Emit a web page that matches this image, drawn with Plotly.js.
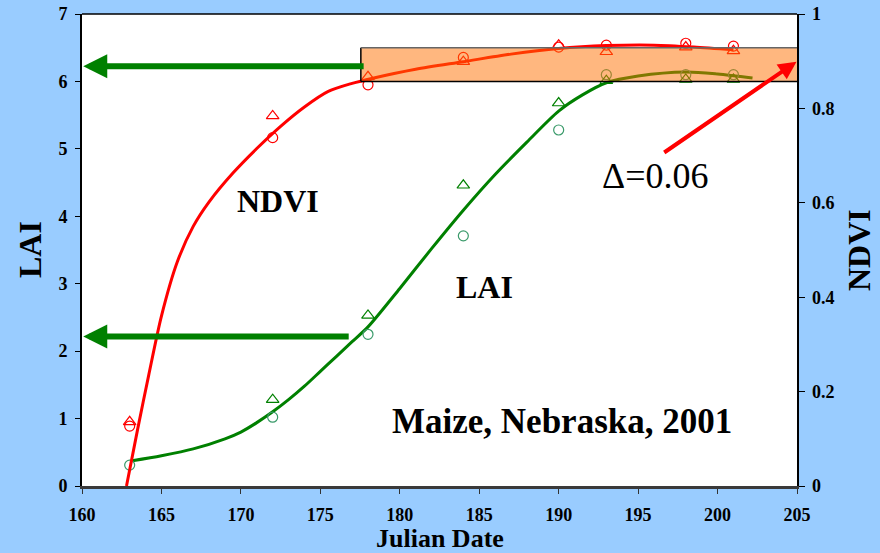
<!DOCTYPE html>
<html>
<head>
<meta charset="utf-8">
<script src="https://cdn.plot.ly/plotly-3.0.1.min.js"></script>
<style>html,body{margin:0;padding:0;background:#99CCFF;}#chart{width:880px;height:553px;}</style>
</head>
<body>
<div id="chart"></div>
<script>
// Measured points
var dates = [163, 172, 178, 184, 190, 193, 198, 201];
var ndviCircle   = [0.127, 0.738, 0.850, 0.908, 0.930, 0.934, 0.938, 0.932];
var ndviTriangle = [0.136, 0.784, 0.867, 0.899, 0.934, 0.920, 0.930, 0.922];
var laiCircle    = [0.31, 1.02, 2.25, 3.71, 5.28, 6.10, 6.10, 6.10];
var laiTriangle  = [null, 1.28, 2.53, 4.46, 5.68, 6.01, 6.03, 6.03];

// Fitted curves
var ndviCurveX = [162.8, 163.5, 164.2, 165.0, 166.0, 167.0, 168.0, 169.5, 171.0, 172.5, 174.0, 175.5, 177.0, 178.3, 181.0, 184.0, 187.0, 190.0, 193.0, 196.0, 198.5, 201.0];
var ndviCurveY = [0.0, 0.12, 0.235, 0.36, 0.475, 0.55, 0.602, 0.663, 0.715, 0.762, 0.803, 0.836, 0.853, 0.864, 0.883, 0.899, 0.915, 0.927, 0.933, 0.934, 0.930, 0.924];
var laiCurveX = [163.16, 165.0, 167.0, 169.0, 170.0, 171.0, 172.0, 173.0, 174.0, 175.0, 176.0, 177.0, 178.0, 180.0, 182.0, 184.0, 186.0, 188.0, 190.0, 191.5, 193.0, 195.0, 198.0, 200.0, 202.2];
var laiCurveY = [0.376, 0.45, 0.55, 0.70, 0.80, 0.94, 1.10, 1.28, 1.48, 1.70, 1.92, 2.14, 2.36, 2.93, 3.52, 4.09, 4.62, 5.10, 5.56, 5.80, 5.98, 6.08, 6.14, 6.11, 6.05];

var xTicks = [160, 165, 170, 175, 180, 185, 190, 195, 200, 205];
var laiTicks = [0, 1, 2, 3, 4, 5, 6, 7];
var ndviTicks = [0, 0.2, 0.4, 0.6, 0.8, 1];
var ndviTickText = ['0', '0.2', '0.4', '0.6', '0.8', '1'];

var SERIF = "'Liberation Serif', 'Times New Roman', serif";
var RED = '#FF0000', GREEN = '#008000', TEAL = '#3A9A6A';

function tf() { return {family: SERIF, size: 18, color: '#000', weight: 700}; }
function bf(s) { return {family: SERIF, size: s, color: '#000', weight: 700}; }

var traces = [
  {x: laiCurveX, y: laiCurveY, mode: 'lines', line: {color: GREEN, width: 3, shape: 'spline', smoothing: 0.8}, yaxis: 'y', hoverinfo: 'skip'},
  {x: ndviCurveX, y: ndviCurveY, mode: 'lines', line: {color: RED, width: 3, shape: 'spline', smoothing: 0.8}, yaxis: 'y2', hoverinfo: 'skip'},
  {x: dates, y: laiCircle, mode: 'markers', marker: {symbol: 'circle-open', size: 10, color: TEAL, line: {width: 1.2, color: TEAL}}, yaxis: 'y'},
  {x: dates, y: laiTriangle, mode: 'markers', marker: {symbol: 'triangle-up-open', size: 11, color: GREEN, line: {width: 1.2, color: GREEN}}, yaxis: 'y'},
  {x: dates, y: ndviCircle, mode: 'markers', marker: {symbol: 'circle-open', size: 10, color: RED, line: {width: 1.2, color: RED}}, yaxis: 'y2'},
  {x: dates, y: ndviTriangle, mode: 'markers', marker: {symbol: 'triangle-up-open', size: 11, color: RED, line: {width: 1.2, color: RED}}, yaxis: 'y2'}
];

var layout = {
  width: 880, height: 553,
  paper_bgcolor: '#99CCFF', plot_bgcolor: '#FFFFFF',
  font: {family: SERIF, weight: 700, color: '#000'},
  margin: {l: 82, r: 83, t: 14, b: 67},
  showlegend: false,
  xaxis: {
    range: [160, 205], tickvals: xTicks, ticks: 'outside', ticklen: 5, tickcolor: '#333',
    showline: true, linecolor: '#3a3a3a', linewidth: 2.5, showgrid: false, zeroline: false,
    tickfont: tf(), ticklabelstandoff: 6
  },
  yaxis: {
    range: [0, 7], tickvals: laiTicks, ticks: 'outside', ticklen: 5, tickcolor: '#000',
    showline: true, linecolor: '#000', linewidth: 2, showgrid: false, zeroline: false,
    tickfont: tf(), ticklabelstandoff: 4
  },
  yaxis2: {
    range: [0, 1], tickvals: ndviTicks, ticktext: ndviTickText, overlaying: 'y', side: 'right', anchor: 'x',
    ticks: 'outside', ticklen: 6, tickcolor: '#000',
    showline: true, linecolor: '#000', linewidth: 1.5, showgrid: false, zeroline: false,
    tickfont: tf(), ticklabelstandoff: 4
  },
  shapes: [
    {type: 'rect', xref: 'x', yref: 'y', x0: 177.55, x1: 205, y0: 6.0, y1: 6.5, layer: 'above',
     fillcolor: '#FF7000', opacity: 0.5, line: {width: 0}},
    {type: 'line', xref: 'x', yref: 'y', x0: 177.55, x1: 205, y0: 6.0, y1: 6.0, layer: 'above', line: {color: '#000', width: 1.5}},
    {type: 'line', xref: 'x', yref: 'y', x0: 177.55, x1: 177.55, y0: 6.0, y1: 6.5, layer: 'above', line: {color: '#000', width: 1.5}},
    {type: 'line', xref: 'x', yref: 'y', x0: 177.55, x1: 205, y0: 6.5, y1: 6.5, layer: 'above', line: {color: '#666', width: 1.5}},
    {type: 'line', xref: 'paper', yref: 'paper', x0: 0, x1: 1, y0: 1, y1: 1, layer: 'above', line: {color: '#000', width: 1.5}}
  ],
  annotations: [
    {x: 160.08, y: 6.226, xref: 'x', yref: 'y', ax: 177.82, ay: 6.226, axref: 'x', ayref: 'y',
     showarrow: true, arrowhead: 2, arrowsize: 0.8, arrowwidth: 6, arrowcolor: GREEN, text: ''},
    {x: 160.08, y: 2.217, xref: 'x', yref: 'y', ax: 176.88, ay: 2.217, axref: 'x', ayref: 'y',
     showarrow: true, arrowhead: 2, arrowsize: 0.8, arrowwidth: 6, arrowcolor: GREEN, text: ''},
    {x: 204.97, y: 0.899, xref: 'x', yref: 'y2', ax: 196.55, ay: 0.7044, axref: 'x', ayref: 'y2',
     showarrow: true, arrowhead: 2, arrowsize: 0.9, arrowwidth: 4, arrowcolor: RED, text: ''},
    {x: 172.35, y: 4.22, xref: 'x', yref: 'y', text: 'NDVI', showarrow: false, font: bf(32)},
    {x: 185.36, y: 2.944, xref: 'x', yref: 'y', text: 'LAI', showarrow: false, font: bf(32)},
    {x: 190.2, y: 0.961, xref: 'x', yref: 'y', text: 'Maize, Nebraska, 2001', showarrow: false, font: bf(35)},
    {x: 196.08, y: 4.594, xref: 'x', yref: 'y', text: 'Δ=0.06', showarrow: false, font: {family: SERIF, size: 36, color: '#000', weight: 400}},
    // axis titles
    {x: 0.5, y: -0.1118, xref: 'paper', yref: 'paper', xanchor: 'center', yanchor: 'middle', text: 'Julian Date', showarrow: false, font: bf(26)},
    {x: -0.0727, y: 0.5, xref: 'paper', yref: 'paper', xanchor: 'center', yanchor: 'middle', text: 'LAI', textangle: -90, showarrow: false, font: bf(32)},
    {x: 1.0867, y: 0.5, xref: 'paper', yref: 'paper', xanchor: 'center', yanchor: 'middle', text: 'NDVI', textangle: -90, showarrow: false, font: bf(32)}
  ]
};

Plotly.newPlot('chart', traces, layout, {displayModeBar: false, staticPlot: true});
</script>
</body>
</html>
